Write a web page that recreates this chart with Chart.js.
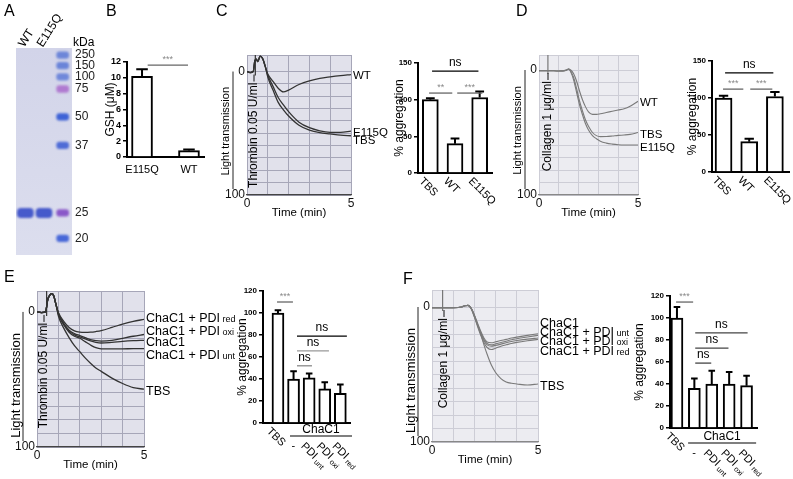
<!DOCTYPE html>
<html><head><meta charset="utf-8">
<script src="https://cdn.jsdelivr.net/npm/chart.js@4.4.1/dist/chart.umd.min.js"></script>
<style>
html,body{margin:0;padding:0;background:#fff;}
#wrap{position:relative;width:793px;height:479px;overflow:hidden;background:#fff;}
#wrap canvas{position:absolute;left:0;top:0;}
</style></head><body><div id="wrap"></div>
<script>
// ---------------- DATA ----------------
// A: gel
const gelLanes = ['WT', 'E115Q', ''];
const markerKDa = [250, 150, 100, 75, 50, 37, 25, 20];
const markerMigration = [3.4, 8.5, 14, 19.8, 33.3, 47, 79.7, 92];
const sampleBandMigration = [79.7, 79.7];

// B: GSH
const gshCats = ['E115Q', 'WT'];
const gshMean = [10.2, 0.8];
const gshErr = [0.9, 0.15];

// C: thrombin traces
const cTime = [0, 0.15, 0.3, 0.38, 0.45, 0.52, 0.63, 0.75, 0.88, 1.0, 1.25, 1.5, 1.75, 2.0, 2.5, 3.0, 3.5, 4.0, 4.5, 5.0];
const cWT    = [0, 0.8, 0, -9, -10, -8, -12.5, -10.5, -4, 2, 8, 13.5, 16.5, 15, 10.5, 7.5, 5.5, 4.3, 3.3, 2.5];
const cE115Q = [0, 0.8, 0, -9, -10, -8, -12.5, -10.5, -4, 3, 12, 21, 27, 32.5, 41, 45.5, 48, 49.2, 49.3, 48.3];
const cTBS   = [0, 0.8, 0, -9, -10, -8, -12.5, -10.5, -4, 4.5, 15, 25, 31, 36, 43.5, 47.5, 49.5, 50.5, 51.5, 52];
// C: bars
const cCats = ['TBS', 'WT', 'E115Q'];
const cMean = [100, 40, 103];
const cErr = [2, 7, 8];

// D: collagen traces
const dTime  = [0, 0.5, 1.0, 1.35, 1.5, 1.6, 1.75, 1.9, 2.05, 2.2, 2.35, 2.5, 2.7, 2.9, 3.1, 3.4, 3.7, 4.0, 4.3, 4.6, 5.0];
const dWT    = [0.5, 0.5, 0.8, 0.3, -0.8, 0, 3, 9, 17, 24, 29.5, 33.5, 35.5, 35.5, 35, 34, 33, 32, 31, 29, 25];
const dTBS   = [0.5, 0.5, 0.8, 0.3, -0.8, 1, 6, 15, 25, 33, 40, 45, 50, 52.5, 53.3, 53.2, 52.8, 52.3, 52, 51.5, 50];
const dE115Q = [0.5, 0.5, 0.8, 0.3, -0.8, 1.5, 8, 18, 28, 36, 43, 48, 52.5, 55, 57, 58.5, 59.3, 59.8, 60, 60, 60];
// D: bars
const dCats = ['TBS', 'WT', 'E115Q'];
const dMean = [100, 41, 102];
const dErr = [3, 4, 6];

// E: thrombin traces with ChaC1 / PDI
const eTime  = [0, 0.2, 0.4, 0.5, 0.6, 0.68, 0.78, 0.88, 1.0, 1.25, 1.5, 1.75, 2.0, 2.25, 2.5, 2.75, 3.0, 3.5, 4.0, 4.5, 5.0];
const ePDIred = [0, 0.5, 0, -9, -12.5, -13.5, -12, -6, 0.5, 7, 11.5, 14, 15, 15.2, 15, 14.5, 13.8, 11.5, 9, 7, 5.5];
const ePDIoxi = [0, 0.5, 0, -9, -12.5, -13.5, -12, -6, 1, 8.5, 13.5, 16, 17.5, 19, 20.5, 21.3, 21.6, 21.1, 19.5, 18, 16.7];
const eChaC1  = [0, 0.5, 0, -9, -12.5, -13.5, -12, -6, 1.5, 9, 14, 17, 18.5, 20, 21.5, 22.5, 23, 22.5, 21.8, 21.3, 21];
const ePDIunt = [0, 0.5, 0, -9, -12.5, -13.5, -12, -6, 1.5, 9.5, 15, 18, 19.5, 22, 24.5, 26.5, 27.3, 27.4, 27.3, 27.2, 27.1];
const eTBS    = [0, 0.5, 0, -9, -12.5, -13.5, -12, -6, 3, 12, 19, 25, 29.5, 34, 38, 41.5, 44, 49, 53, 56, 57.2];
// E: bars
const eCats = ['TBS', '-', 'PDI unt', 'PDI oxi', 'PDI red'];
const eMean = [100, 40, 41, 31, 27];
const eErr = [2.5, 7, 4, 6, 8];

// F: collagen traces with ChaC1 / PDI
const fTime  = [0, 0.5, 1.0, 1.4, 1.55, 1.7, 1.85, 2.0, 2.15, 2.3, 2.45, 2.6, 2.8, 3.0, 3.25, 3.5, 3.75, 4.0, 4.5, 5.0];
const fTBS    = [0.5, 0.5, 0.5, 0, -1, -1.2, 1, 6, 13, 20, 28, 35, 43, 48.5, 53, 55.5, 56.5, 57, 57.8, 57];
const fChaC1  = [0.5, 0.5, 0.5, 0, -1, -1.2, 1, 6, 12, 18, 23, 26, 26.5, 25.8, 24.8, 24, 23, 22.3, 21, 19.8];
const fPDIunt = [0.5, 0.5, 0.5, 0, -1, -1.2, 1, 6.5, 13, 19, 24, 27, 28, 27.3, 26.3, 25.3, 24.3, 23.5, 22.2, 21];
const fPDIoxi = [0.5, 0.5, 0.5, 0, -1, -1.2, 1, 7, 13.5, 20, 25, 28, 29, 28.5, 27.5, 26.5, 25.5, 24.8, 23.8, 23];
const fPDIred = [0.5, 0.5, 0.5, 0, -1, -1.2, 1.5, 7.5, 14.5, 21, 26.5, 30, 31.5, 30.5, 29, 28, 27, 26.2, 25, 24];
// F: bars
const fCats = ['TBS', '-', 'PDI unt', 'PDI oxi', 'PDI red'];
const fMean = [100, 36, 40, 40, 38.5];
const fErr = [10, 9, 12, 11, 9];

// ---------------- SETUP ----------------
const W = 793, H = 479;
const ARIAL = "'Liberation Sans',Arial,sans-serif";
Chart.defaults.font.family = ARIAL;
Chart.defaults.animation = false;
Chart.defaults.responsive = false;
Chart.defaults.devicePixelRatio = 1;
Chart.defaults.plugins.legend.display = false;
Chart.defaults.plugins.tooltip.enabled = false;

// every chart gets a full-page canvas; its plot area is set exactly by padding + fixed axis box sizes
function make(area, config) {
  const c = document.createElement('canvas');
  c.width = W; c.height = H; c.style.width = W + 'px'; c.style.height = H + 'px';
  document.getElementById('wrap').appendChild(c);
  const pad = {left: area[0], top: area[1], right: W - area[2], bottom: H - area[3]};
  const BOX = 30;
  for (const k in config.options.scales) {
    const s = config.options.scales[k];
    if (s.display === false) continue;
    const horiz = k === 'x';
    const pos = s.position || (horiz ? 'bottom' : 'left');
    pad[pos] -= BOX;
    s.afterFit = sc => { if (sc.isHorizontal()) sc.height = BOX; else sc.width = BOX; };
  }
  config.options.layout = {padding: pad};
  return new Chart(c, config);
}
function txt(ctx, s, x, y, o) {
  o = o || {};
  ctx.save(); ctx.translate(x, y); if (o.rot) ctx.rotate(o.rot * Math.PI / 180);
  ctx.font = o.font || ('12px ' + ARIAL); ctx.fillStyle = o.color || '#000';
  ctx.textAlign = o.align || 'left'; ctx.textBaseline = o.baseline || 'middle';
  ctx.fillText(s, 0, 0); ctx.restore();
}
// text followed by a smaller word ("PDI red")
function subTxt(ctx, main, sub, x, y, o) {
  ctx.save(); ctx.translate(x, y); if (o.rot) ctx.rotate(o.rot * Math.PI / 180);
  ctx.fillStyle = o.color || '#000'; ctx.textBaseline = 'alphabetic'; ctx.textAlign = 'left';
  ctx.font = o.font; ctx.fillText(main, 0, o.dy || 0);
  const w = ctx.measureText(main + ' ').width;
  if (sub) { ctx.font = o.subFont; ctx.fillText(sub, w - 1, (o.dy || 0) + (o.subDy || 0)); }
  ctx.restore();
}
function seg(ctx, x1, y1, x2, y2, color, lw) {
  ctx.save(); ctx.strokeStyle = color; ctx.lineWidth = lw; ctx.beginPath();
  ctx.moveTo(x1, y1); ctx.lineTo(x2, y2); ctx.stroke(); ctx.restore();
}

// ---------------- PANEL A: gel ----------------
const markerColors = ['#6d86d8', '#6a84d8', '#7088da', '#b07ad0', '#3f63d6', '#4f6cd6', '#8a58c8', '#4868d8'];
make([16, 48, 72, 255], {
  type: 'bar',
  data: {datasets: [
    {data: sampleBandMigration.map((m, i) => ({x: i, y: [m - 2.3, m + 2.3]})), backgroundColor: 'rgba(58,78,200,0.92)',
     barThickness: 16, borderRadius: 4, borderSkipped: false, grouped: false},
    {data: markerMigration.map(m => ({x: 2, y: [m - 1.6, m + 1.6]})), backgroundColor: markerColors,
     barThickness: 12, borderRadius: 3, borderSkipped: false, grouped: false}
  ]},
  options: {
    scales: {
      x: {type: 'linear', min: -0.5, max: 2.5, offset: false, display: false},
      y: {type: 'linear', min: 0, max: 100, reverse: true, position: 'right',
          afterBuildTicks: s => { s.ticks = markerMigration.map(v => ({value: v})); },
          grid: {display: false, drawTicks: false}, border: {display: false},
          ticks: {autoSkip: false, callback: (v, i) => String(markerKDa[i]), font: {size: 12}, color: '#222', padding: 3}}
    }
  },
  plugins: [{
    id: 'gel',
    beforeDatasetsDraw(chart) {
      const ctx = chart.ctx, a = chart.chartArea;
      ctx.save();
      const g = ctx.createLinearGradient(0, a.top, 0, a.bottom);
      g.addColorStop(0, '#d2d4e9'); g.addColorStop(1, '#dcdeee');
      ctx.fillStyle = g; ctx.fillRect(a.left, a.top, a.right - a.left, a.bottom - a.top);
      ctx.restore();
      ctx.save(); ctx.filter = 'blur(1.2px)';
    },
    afterDatasetsDraw(chart) { chart.ctx.restore(); },
    afterDraw(chart) {
      const ctx = chart.ctx, xs = chart.scales.x;
      gelLanes.forEach((l, i) => { if (l) txt(ctx, l, xs.getPixelForValue(i) - 4, 46, {font: '12px ' + ARIAL, rot: -58}); });
      txt(ctx, 'kDa', 73, 43, {font: '12px ' + ARIAL});
      // panel letters
      const pf = '16px ' + ARIAL;
      txt(ctx, 'A', 4, 12, {font: pf}); txt(ctx, 'B', 106, 12, {font: pf}); txt(ctx, 'C', 216, 12, {font: pf});
      txt(ctx, 'D', 516, 12, {font: pf}); txt(ctx, 'E', 4, 278, {font: pf}); txt(ctx, 'F', 403, 280, {font: pf});
    }
  }]
});

// ---------------- bar chart builder ----------------
const errorBars = {
  id: 'errbars',
  afterDatasetsDraw(chart) {
    const ctx = chart.ctx, ys = chart.scales.y;
    chart.data.datasets.forEach((ds, di) => {
      if (!ds.errors) return;
      chart.getDatasetMeta(di).data.forEach((el, i) => {
        const top = ys.getPixelForValue(ds.data[i].y + ds.errors[i]);
        const cap = el.width * 0.55;
        ctx.save(); ctx.strokeStyle = '#000'; ctx.lineWidth = 2; ctx.beginPath();
        ctx.moveTo(el.x, el.y); ctx.lineTo(el.x, top);
        ctx.moveTo(el.x - cap / 2, top); ctx.lineTo(el.x + cap / 2, top); ctx.stroke(); ctx.restore();
      });
    });
  }
};
function barChart(area, cats, mean, err, o) {
  return make(area, {
    type: 'bar',
    data: {datasets: [{data: mean.map((v, i) => ({x: i, y: v})), errors: err, backgroundColor: '#fff',
      borderColor: '#000', borderWidth: 2, barThickness: o.bw}]},
    options: {
      scales: {
        x: {type: 'linear', offset: false, min: o.xmin, max: o.xmax, grid: {display: false, offset: false},
            ticks: {display: false}, border: {color: '#000', width: 2}},
        y: {type: 'linear', min: 0, max: o.ymax, ticks: {stepSize: o.step, font: {size: o.tickSize || 8, weight: 'bold'}, color: '#000', padding: 2},
            grid: {drawOnChartArea: false, color: '#000', lineWidth: 1.5, tickLength: 4}, border: {color: '#000', width: 2}}
      }
    },
    plugins: [errorBars, {
      id: 'decor',
      afterDraw(chart) {
        const ctx = chart.ctx, xs = chart.scales.x, ys = chart.scales.y, a = chart.chartArea;
        txt(ctx, o.ytitle, a.left - o.titleOff, (a.top + a.bottom) / 2 + (o.titleDy || 0), {font: (o.titleSize || 12) + 'px ' + ARIAL, rot: -90, align: 'center'});
        (o.sig || []).forEach(s => {
          const y = ys.getPixelForValue(s.v), x1 = xs.getPixelForValue(s.a), x2 = xs.getPixelForValue(s.b);
          seg(ctx, x1, y, x2, y, s.c || '#000', 1.3);
          if (s.t === 'ns') txt(ctx, 'ns', (x1 + x2) / 2, y - 2, {font: '12px ' + ARIAL, align: 'center', baseline: 'bottom'});
          else txt(ctx, s.t, (x1 + x2) / 2, y - 1, {font: '9px ' + ARIAL, color: '#888', align: 'center', baseline: 'bottom'});
        });
        const by = a.bottom;
        cats.forEach((c, i) => {
          const x = xs.getPixelForValue(i);
          if (o.flat) { txt(ctx, c, x, by + 13, {font: o.labFont, align: 'center'}); return; }
          if (c === '-') { txt(ctx, '-', x - 2, by + o.groupDy + 10, {font: o.labFont}); return; }
          const parts = c.split(' ');
          const grouped = o.group && i >= o.group.from;
          subTxt(ctx, parts[0], parts[1], x - (grouped ? 3 : 6), by + (grouped ? o.groupDy + 5 : 3),
            {rot: 45, font: o.labFont, subFont: o.subFont, dy: 8, subDy: 2});
        });
        if (o.group) {
          const x1 = xs.getPixelForValue(o.group.a), x2 = xs.getPixelForValue(o.group.b);
          seg(ctx, x1, by + o.groupDy, x2, by + o.groupDy, '#000', 1.2);
          txt(ctx, o.group.label, (x1 + x2) / 2, by + o.groupDy - 6, {font: '12px ' + ARIAL, align: 'center'});
        }
      }
    }]
  });
}

// ---------------- PANEL B ----------------
barChart([127, 62, 204, 157], gshCats, gshMean, gshErr, {
  bw: 21, xmin: -0.32, xmax: 1.32, ymax: 12, step: 2, tickSize: 9, ytitle: 'GSH (\u03bcM)', titleOff: 16, titleSize: 12,
  flat: true, labFont: '11px ' + ARIAL,
  sig: [{a: 0.12, b: 0.98, v: 11.6, t: '***', c: '#666'}]
});

// ---------------- trace chart builder ----------------
function traceChart(area, times, series, o) {
  const yt = [o.ymin]; for (let v = 0; v <= 100; v += 10) yt.push(v);
  return make(area, {
    type: 'line',
    data: {datasets: series.map(s => ({label: s.name, data: times.map((t, i) => ({x: t, y: s.values[i]})),
      borderColor: o.lc, borderWidth: o.lw, pointRadius: 0, cubicInterpolationMode: 'monotone', fill: false}))},
    options: {
      scales: {
        x: {type: 'linear', min: 0, max: 5, ticks: {stepSize: 1, autoSkip: false, maxRotation: 0, minRotation: 0,
              callback: v => (v === 0 || v === 5) ? String(v) : '', font: {size: 12}, color: '#111', padding: 1},
            grid: {color: o.gc, drawTicks: false}, border: {color: o.bc, width: 1.2}},
        y: {type: 'linear', min: o.ymin, max: 100, reverse: true,
            afterBuildTicks: s => { s.ticks = yt.map(v => ({value: v})); },
            ticks: {autoSkip: false, callback: v => (v === 0 || v === 100) ? String(v) : '', font: {size: 12}, color: '#111', padding: 2},
            grid: {color: o.gc, drawTicks: false}, border: {display: false}}
      }
    },
    plugins: [{
      id: 'tbg',
      beforeDraw(chart) {
        const ctx = chart.ctx, a = chart.chartArea;
        ctx.save(); ctx.fillStyle = o.bg; ctx.fillRect(a.left, a.top, a.right - a.left, a.bottom - a.top); ctx.restore();
      },
      afterDraw(chart) {
        const ctx = chart.ctx, a = chart.chartArea, xs = chart.scales.x, ys = chart.scales.y;
        const y0 = ys.getPixelForValue(0), y100 = ys.getPixelForValue(100);
        seg(ctx, a.left - 14, y0, a.left - 14, y100 - 6, '#222', 1);
        txt(ctx, 'Light transmission', a.left - 21, (y0 + y100) / 2 + o.ltDy, {font: o.ltSize + 'px ' + ARIAL, rot: -90, align: 'center'});
        txt(ctx, 'Time (min)', (a.left + a.right) / 2, a.bottom + 18, {font: '11.5px ' + ARIAL, align: 'center'});
        // agonist addition mark and label
        const ax = xs.getPixelForValue(o.addT);
        seg(ctx, ax, a.top, ax, y0 + 4, o.addColor, 1.2);
        txt(ctx, o.addText, a.left + o.addDx, y0 + 11, {font: '12px ' + ARIAL, rot: -90, align: 'right'});
        seg(ctx, a.left + o.addDx, y0 + 10, a.left + o.addDx, y0 + 3, '#111', 1);
        o.labels.forEach(l => {
          const y = ys.getPixelForValue(l.v);
          subTxt(ctx, l.t, l.s, a.right + 2, y, {font: o.labSize + 'px ' + ARIAL, subFont: '9px ' + ARIAL, dy: 4.5, subDy: 0});
        });
      }
    }]
  });
}
const darkTrace = {lc: '#333', lw: 1.3, gc: '#a6a6b8', bc: '#444', bg: '#e1e1eb', addColor: '#333'};
const lightTrace = {lc: '#7a7a7a', lw: 1.1, gc: '#cdcdd6', bc: '#888', bg: '#ececf1', addColor: '#777'};

// ---------------- PANEL C ----------------
traceChart([247, 55, 351, 195], cTime,
  [{name: 'WT', values: cWT}, {name: 'E115Q', values: cE115Q}, {name: 'TBS', values: cTBS}],
  Object.assign({}, darkTrace, {ymin: -13.4, addT: 0.4, addDx: 7, addText: 'Thrombin 0.05 U/ml', ltSize: 11, ltDy: -2, labSize: 11.5,
    labels: [{t: 'WT', v: 2.5}, {t: 'E115Q', v: 48.5}, {t: 'TBS', v: 54.8}]}));
barChart([418, 63, 492, 173], cCats, cMean, cErr, {
  bw: 16, xmin: -0.5, xmax: 2.5, ymax: 150, step: 50, ytitle: '% aggregation', titleOff: 18,
  labFont: '11px ' + ARIAL, subFont: '8px ' + ARIAL,
  sig: [{a: 0.07, b: 1.95, v: 139, t: 'ns'}, {a: -0.05, b: 0.89, v: 109, t: '**', c: '#666'}, {a: 1.09, b: 2.11, v: 109, t: '***', c: '#666'}]
});

// ---------------- PANEL D ----------------
traceChart([539, 55, 638, 195], dTime,
  [{name: 'WT', values: dWT}, {name: 'TBS', values: dTBS}, {name: 'E115Q', values: dE115Q}],
  Object.assign({}, lightTrace, {ymin: -12, addT: 0.45, addDx: 9, addText: 'Collagen 1 \u03bcg/ml', ltSize: 11, ltDy: -2, labSize: 11.5,
    labels: [{t: 'WT', v: 24.8}, {t: 'TBS', v: 50.4}, {t: 'E115Q', v: 60.8}]}));
barChart([712, 61, 789, 172], dCats, dMean, dErr, {
  bw: 17, xmin: -0.45, xmax: 2.55, ymax: 150, step: 50, ytitle: '% aggregation', titleOff: 19,
  labFont: '11px ' + ARIAL, subFont: '8px ' + ARIAL,
  sig: [{a: 0.06, b: 1.94, v: 134, t: 'ns'}, {a: -0.02, b: 0.77, v: 112, t: '***', c: '#666'}, {a: 1.04, b: 1.9, v: 112, t: '***', c: '#666'}]
});

// ---------------- PANEL E ----------------
traceChart([37, 291, 144, 447], eTime,
  [{name: 'ChaC1 + PDI red', values: ePDIred}, {name: 'ChaC1 + PDI oxi', values: ePDIoxi}, {name: 'ChaC1', values: eChaC1},
   {name: 'ChaC1 + PDI unt', values: ePDIunt}, {name: 'TBS', values: eTBS}],
  Object.assign({}, darkTrace, {ymin: -15.5, addT: 0.45, addDx: 7, addText: 'Thrombin 0.05 U/ml', ltSize: 13, ltDy: 6, labSize: 12.5,
    labels: [{t: 'ChaC1 + PDI', s: 'red', v: 4.4}, {t: 'ChaC1 + PDI', s: 'oxi', v: 14}, {t: 'ChaC1', v: 22},
             {t: 'ChaC1 + PDI', s: 'unt', v: 31.6}, {t: 'TBS', v: 58}]}));
barChart([263, 291, 350, 423], eCats, eMean, eErr, {
  bw: 12, xmin: -0.96, xmax: 4.62, ymax: 120, step: 20, ytitle: '% aggregation', titleOff: 20,
  labFont: '11px ' + ARIAL, subFont: '7.5px ' + ARIAL, groupDy: 13,
  group: {from: 1, a: 0.77, b: 4.75, label: 'ChaC1'},
  sig: [{a: -0.06, b: 0.96, v: 110, t: '***', c: '#666'}, {a: 1.22, b: 2.18, v: 52, t: 'ns', c: '#888'},
        {a: 1.22, b: 3.27, v: 65.5, t: 'ns', c: '#999'}, {a: 1.22, b: 4.42, v: 79, t: 'ns'}]
});

// ---------------- PANEL F ----------------
traceChart([432, 290, 538, 442], fTime,
  [{name: 'ChaC1', values: fChaC1}, {name: 'ChaC1 + PDI unt', values: fPDIunt}, {name: 'ChaC1 + PDI oxi', values: fPDIoxi},
   {name: 'ChaC1 + PDI red', values: fPDIred}, {name: 'TBS', values: fTBS}],
  Object.assign({}, lightTrace, {ymin: -12.6, addT: 0.5, addDx: 12, addText: 'Collagen 1 \u03bcg/ml', ltSize: 13, ltDy: 6, labSize: 12.5,
    labels: [{t: 'ChaC1', v: 11.5}, {t: 'ChaC1 + PDI', s: 'unt', v: 18}, {t: 'ChaC1 + PDI', s: 'oxi', v: 24.5},
             {t: 'ChaC1 + PDI', s: 'red', v: 32}, {t: 'TBS', v: 58}]}));
barChart([670, 296, 757, 428], fCats, fMean, fErr, {
  bw: 12, xmin: -0.4, xmax: 4.6, ymax: 120, step: 20, ytitle: '% aggregation', titleOff: 30,
  labFont: '11px ' + ARIAL, subFont: '7.5px ' + ARIAL, groupDy: 15,
  group: {from: 1, a: 0.64, b: 4.55, label: 'ChaC1'},
  sig: [{a: -0.05, b: 0.93, v: 114.5, t: '***', c: '#666'}, {a: 1.05, b: 1.97, v: 59, t: 'ns', c: '#444'},
        {a: 1.05, b: 2.96, v: 72.7, t: 'ns', c: '#444'}, {a: 1.05, b: 4.06, v: 86.4, t: 'ns', c: '#444'}]
});
</script></body></html>
